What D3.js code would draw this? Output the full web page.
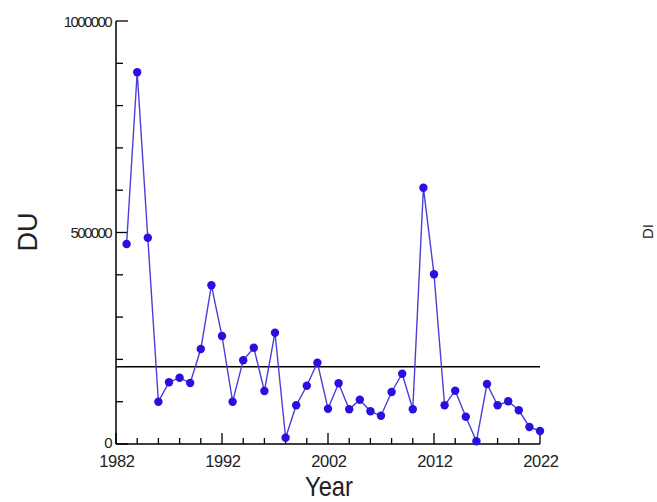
<!DOCTYPE html>
<html>
<head>
<meta charset="utf-8">
<script src="https://cdn.jsdelivr.net/npm/d3@7"></script>
<style>
  body { margin: 0; background: #fff; }
  svg { display: block; font-family: Arial, "Liberation Sans", sans-serif; }
</style>
</head>
<body>
<div id="chart"></div>
<script>
var years = d3.range(1983, 2023);
var du = [
  472800, 878700, 487700, 100000, 145900, 156700, 144200, 224600, 375200, 255300,
  100000, 197900, 227700, 125300, 263100, 14900, 91500, 137800, 192200, 83500,
  143500, 82000, 104700, 77300, 66900, 122900, 166200, 82000, 605900, 401200,
  91500, 126000, 64500, 6400, 141800, 91500, 100900, 79700, 40200, 30700
];
var xTicks = [1982, 1992, 2002, 2012, 2022];
var yTicks = [0, 500000, 1000000];

var width = 657;
var height = 502;
var plot = { left: 116, right: 540, top: 21, bottom: 444 };

var svg = d3.select('#chart')
  .append('svg')
    .attr('width', width)
    .attr('height', height);

var x = d3.scaleLinear().domain([1982, 2022]).range([plot.left, plot.right]);
var y = d3.scaleLinear().domain([0, 1000000]).range([plot.bottom, plot.top]);

var data = years.map(function (d, i) { return { year: d, value: du[i] }; });

// x axis, ticks pointing inward
var xAxis = svg.append('g')
  .attr('transform', 'translate(0,' + plot.bottom + ')');
xAxis.append('line')
  .attr('x1', plot.left).attr('x2', plot.right)
  .attr('stroke', '#000').attr('stroke-width', 1.5);
xAxis.selectAll('.tick')
    .data(d3.range(1982, 2023, 2))
    .enter()
  .append('line')
    .attr('x1', function (d) { return x(d); })
    .attr('x2', function (d) { return x(d); })
    .attr('y1', 0)
    .attr('y2', function (d) { return (d - 1982) % 10 === 0 ? -11 : -6; })
    .attr('stroke', '#000').attr('stroke-width', 1.3);
xAxis.selectAll('.lbl')
    .data(xTicks)
    .enter()
  .append('text')
    .attr('x', function (d) { return x(d) + 1; })
    .attr('y', 22.5)
    .attr('text-anchor', 'middle')
    .attr('font-size', 16.5)
    .attr('letter-spacing', -0.3)
    .attr('fill', '#222')
    .text(function (d) { return d; });

// y axis, ticks pointing inward
var yAxis = svg.append('g')
  .attr('transform', 'translate(' + plot.left + ',0)');
yAxis.append('line')
  .attr('y1', plot.top).attr('y2', plot.bottom)
  .attr('stroke', '#000').attr('stroke-width', 1.5);
yAxis.selectAll('.tick')
    .data(d3.range(0, 1000001, 100000))
    .enter()
  .append('line')
    .attr('y1', function (d) { return y(d); })
    .attr('y2', function (d) { return y(d); })
    .attr('x1', 0)
    .attr('x2', function (d) { return d % 500000 === 0 ? 12 : 7; })
    .attr('stroke', '#000').attr('stroke-width', 1.3);
yAxis.selectAll('.lbl')
    .data(yTicks)
    .enter()
  .append('text')
    .attr('x', -5)
    .attr('y', function (d) { return y(d) + (d === 0 ? 3.5 : 5.5); })
    .attr('text-anchor', 'end')
    .attr('font-size', 15)
    .attr('letter-spacing', -1.6)
    .attr('fill', '#222')
    .text(function (d) { return d; });

// mean line
var mean = d3.mean(du);
svg.append('line')
  .attr('x1', x(1982)).attr('x2', x(2022))
  .attr('y1', y(mean)).attr('y2', y(mean))
  .attr('stroke', '#000').attr('stroke-width', 1.6);

// series
var line = d3.line()
  .x(function (d) { return x(d.year); })
  .y(function (d) { return y(d.value); });

svg.append('path')
  .datum(data)
  .attr('fill', 'none')
  .attr('stroke', '#4a3fd6')
  .attr('stroke-width', 1.4)
  .attr('d', line);

svg.selectAll('.dot')
    .data(data)
    .enter()
  .append('circle')
    .attr('cx', function (d) { return x(d.year); })
    .attr('cy', function (d) { return y(d.value); })
    .attr('r', 4.2)
    .attr('fill', '#2a10e0');

// axis titles
svg.append('text')
  .attr('transform', 'translate(329,496) scale(0.88,1)')
  .attr('text-anchor', 'middle')
  .attr('font-size', 27)
  .attr('fill', '#222')
  .text('Year');

svg.append('text')
  .attr('transform', 'translate(37,232) rotate(-90)')
  .attr('text-anchor', 'middle')
  .attr('font-size', 27)
  .attr('fill', '#222')
  .text('DU');

// neighbouring panel's label at the right edge
svg.append('text')
  .attr('transform', 'translate(653,239) rotate(-90)')
  .attr('text-anchor', 'start')
  .attr('font-size', 15)
  .attr('fill', '#222')
  .text('DI');
</script>
</body>
</html>
